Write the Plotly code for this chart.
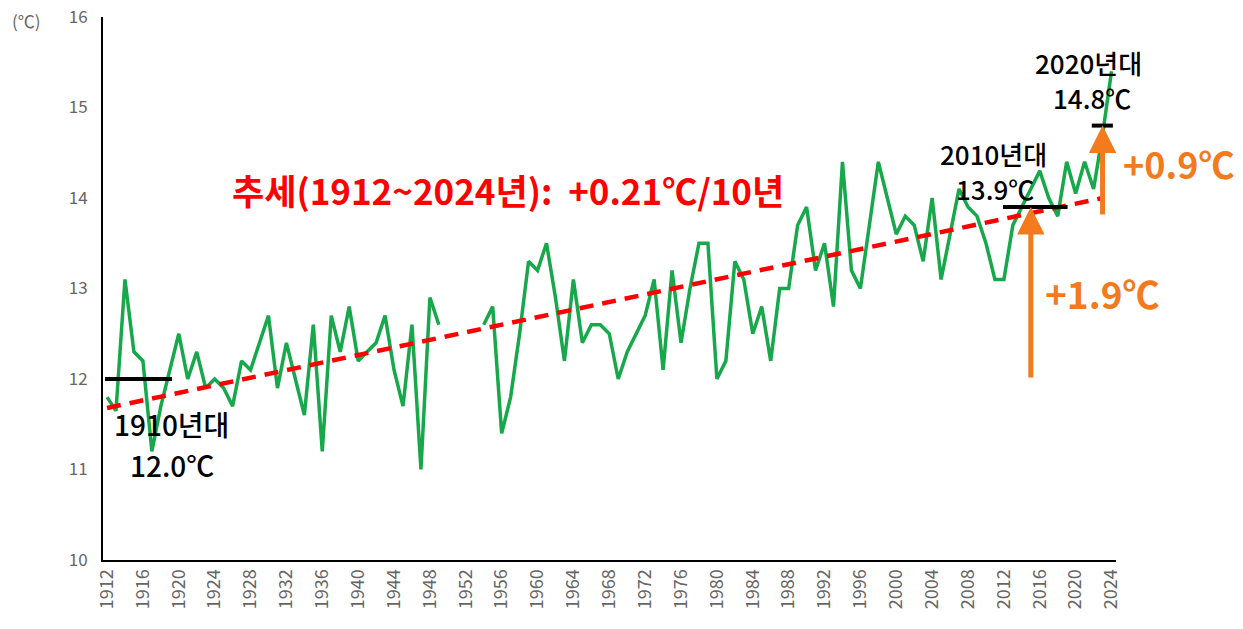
import plotly.graph_objects as go

# annual mean temperature (6 stations), gap for 1950-1953
years = list(range(1912, 2025))
temps = [
    11.8, 11.65, 13.1, 12.3, 12.2, 11.2, 11.7, 12.1,            # 1912-1919
    12.5, 12.0, 12.3, 11.9, 12.0, 11.9, 11.7, 12.2, 12.1, 12.4,  # 1920s
    12.7, 11.9, 12.4, 12.0, 11.6, 12.6, 11.2, 12.7, 12.3, 12.8,  # 1930s
    12.2, 12.3, 12.4, 12.7, 12.1, 11.7, 12.6, 11.0, 12.9, 12.6,  # 1940s
    None, None, None, None, 12.6, 12.8, 11.4, 11.8, 12.5, 13.3,  # 1950s
    13.2, 13.5, 12.9, 12.2, 13.1, 12.4, 12.6, 12.6, 12.5, 12.0,  # 1960s
    12.3, 12.5, 12.7, 13.1, 12.1, 13.2, 12.4, 13.0, 13.5, 13.5,  # 1970s
    12.0, 12.2, 13.3, 13.1, 12.5, 12.8, 12.2, 13.0, 13.0, 13.7,  # 1980s
    13.9, 13.2, 13.5, 12.8, 14.4, 13.2, 13.0, 13.7, 14.4, 14.0,  # 1990s
    13.6, 13.8, 13.7, 13.3, 14.0, 13.1, 13.6, 14.1, 13.9, 13.8,  # 2000s
    13.5, 13.1, 13.1, 13.7, 13.9, 14.1, 14.3, 14.0, 13.8, 14.4,  # 2010s
    14.05, 14.4, 14.1, 14.7, 15.4,                               # 2020s
]

trend_years = [1912, 2023]
trend_vals = [11.68, 14.0]

decade_names = ["1910년대", "2010년대", "2020년대"]
decade_means = [12.0, 13.9, 14.8]

GREEN = "#17A84B"
RED = "#FF0000"
ORANGE = "#F47A1E"
GRAY = "#666666"
FONT = "Noto Sans CJK KR"

# plot area in pixels (for placing the free text)
L, R, T, B = 103, 1116, 17, 560


def paper(px, py):
    return (px - L) / (R - L), (B - py) / (B - T)


fig = go.Figure()

fig.add_trace(go.Scatter(
    x=years, y=temps, mode="lines",
    line=dict(color=GREEN, width=3.5),
    connectgaps=False, hoverinfo="skip",
))

fig.add_trace(go.Scatter(
    x=trend_years, y=trend_vals, mode="lines",
    line=dict(color=RED, width=4.5, dash="14px,9px"),
    hoverinfo="skip",
))

# decade mean bars
bar_spans = [(1911.77, 1919.25), (2011.9, 2019.1), (2021.8, 2024.15)]
for (x0, x1), m in zip(bar_spans, decade_means):
    fig.add_shape(type="line", x0=x0, x1=x1, y0=m, y1=m, xref="x", yref="y",
                  line=dict(color="black", width=4), layer="above")

# orange arrows (decade differences)
for xa, y0, y1 in [(2015, decade_means[0], decade_means[1]),
                   (2023, 13.8, decade_means[2])]:
    fig.add_annotation(x=xa, y=y1, ax=xa, ay=y0, xref="x", yref="y",
                       axref="x", ayref="y", text="", showarrow=True,
                       arrowhead=2, arrowsize=1.1, arrowwidth=5,
                       arrowcolor=ORANGE, standoff=0)

texts = [
    ("(℃)", 26, 21, 17, GRAY, 400),
    (decade_names[0], 171, 424, 28, "black", 500),
    (f"{decade_means[0]:.1f}℃", 172, 465, 28, "black", 500),
    (decade_names[1], 993, 153, 26, "black", 500),
    (f"{decade_means[1]:.1f}℃", 995, 189, 26, "black", 500),
    (decade_names[2], 1088, 62, 26, "black", 500),
    (f"{decade_means[2]:.1f}℃", 1092, 98, 26, "black", 500),
    ("추세(1912~2024년):\u00a0 +0.21℃/10년", 508, 190, 35, RED, 700),
    ("+1.9℃", 1102, 293, 37, ORANGE, 700),
    ("+0.9℃", 1178, 163, 36, ORANGE, 700),
]
for txt, px, py, size, col, wt in texts:
    x, y = paper(px, py)
    fig.add_annotation(x=x, y=y, xref="paper", yref="paper", text=txt,
                       showarrow=False, xanchor="center", yanchor="middle",
                       font=dict(family=FONT, size=size, color=col, weight=wt))

fig.update_layout(
    width=1243, height=629,
    margin=dict(l=L, r=1243 - R, t=T, b=629 - B, autoexpand=False),
    paper_bgcolor="white", plot_bgcolor="white",
    showlegend=False,
    font=dict(family=FONT, color=GRAY),
    xaxis=dict(
        range=[1911.55, 2024.5], tickmode="linear", tick0=1912, dtick=4,
        tickangle=-90, tickfont=dict(size=18, color=GRAY),
        showgrid=False, zeroline=False, showline=True, automargin=False,
        linecolor="black", linewidth=2, ticks="",
    ),
    yaxis=dict(
        range=[10, 16], tickmode="linear", tick0=10, dtick=1,
        tickfont=dict(size=17, color=GRAY), ticklabelstandoff=10,
        showgrid=False, zeroline=False, showline=True, automargin=False,
        linecolor="black", linewidth=2, ticks="",
    ),
)

# page body has a default 8px margin; drop it so the figure sits at 0,0
fig.write_html("out.html", config={"displayModeBar": False},
               post_script="document.body.style.margin='0px';")
